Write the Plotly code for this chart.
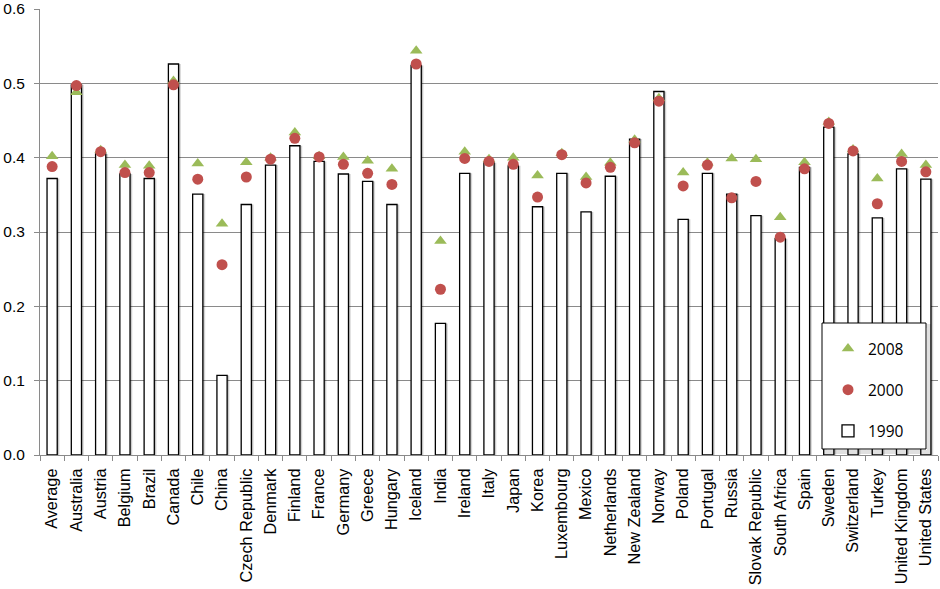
import plotly.graph_objects as go

countries = ["Average", "Australia", "Austria", "Belgium", "Brazil", "Canada", "Chile", "China",
             "Czech Republic", "Denmark", "Finland", "France", "Germany", "Greece", "Hungary",
             "Iceland", "India", "Ireland", "Italy", "Japan", "Korea", "Luxembourg", "Mexico",
             "Netherlands", "New Zealand", "Norway", "Poland", "Portugal", "Russia",
             "Slovak Republic", "South Africa", "Spain", "Sweden", "Switzerland", "Turkey",
             "United Kingdom", "United States"]

v1990 = [0.372, 0.498, 0.405, 0.378, 0.372, 0.526, 0.351, 0.107, 0.337, 0.390, 0.416, 0.395,
         0.378, 0.368, 0.337, 0.524, 0.177, 0.379, 0.393, 0.389, 0.334, 0.379, 0.327, 0.375,
         0.425, 0.489, 0.317, 0.379, 0.351, 0.322, 0.291, 0.387, 0.441, 0.405, 0.319, 0.385,
         0.371]

v2000 = [0.388, 0.497, 0.408, 0.380, 0.380, 0.498, 0.371, 0.256, 0.374, 0.398, 0.426, 0.401,
         0.391, 0.379, 0.364, 0.526, 0.223, 0.399, 0.395, 0.391, 0.347, 0.404, 0.366, 0.387,
         0.420, 0.476, 0.362, 0.390, 0.346, 0.368, 0.293, 0.385, 0.446, 0.409, 0.338, 0.395,
         0.381]

v2008 = [0.402, 0.488, 0.410, 0.390, 0.389, 0.503, 0.392, 0.311, 0.394, 0.400, 0.434, 0.402,
         0.401, 0.396, 0.385, 0.544, 0.288, 0.408, 0.398, 0.400, 0.376, 0.406, 0.374, 0.393,
         0.424, 0.480, 0.380, 0.393, 0.399, 0.398, 0.320, 0.394, 0.448, 0.411, 0.372, 0.405,
         0.390]

FONT = "Liberation Sans, Arial, sans-serif"
GRID = "#8a8a8a"

fig = go.Figure()

# soft shadow behind bars
fig.add_trace(go.Bar(x=countries, y=v1990, width=0.46, offset=-0.21 + 0.06,
                     marker=dict(color="rgba(0,0,0,0.10)", line=dict(width=0)),
                     showlegend=False, hoverinfo="skip"))
fig.add_trace(go.Bar(x=countries, y=v1990, width=0.42, offset=-0.21 + 0.07,
                     marker=dict(color="rgba(0,0,0,0.14)", line=dict(width=0)),
                     showlegend=False, hoverinfo="skip"))

fig.add_trace(go.Bar(x=countries, y=v1990, name="1990", width=0.42, offset=-0.21,
                     marker=dict(color="white", line=dict(color="black", width=1.3)),
                     legendrank=3, legendgroup="c"))

fig.add_trace(go.Scatter(x=countries, y=v2008, name="2008", mode="markers",
                         marker=dict(symbol="triangle-up", size=11, color="#9BBB59"),
                         legendrank=1, legendgroup="a"))

fig.add_trace(go.Scatter(x=countries, y=v2000, name="2000", mode="markers",
                         marker=dict(symbol="circle", size=11, color="#C0504D"),
                         legendrank=2, legendgroup="b"))

# legend frame
fig.add_shape(type="rect", xref="paper", yref="paper",
              x0=(825 - 40) / 898, x1=(929 - 40) / 898,
              y0=(455 - 452) / 446, y1=(455 - 326) / 446,
              line=dict(color="rgba(0,0,0,0.12)", width=4), fillcolor="rgba(0,0,0,0)", layer="above")
fig.add_shape(type="rect", xref="paper", yref="paper",
              x0=(822 - 40) / 898, x1=(926 - 40) / 898,
              y0=(455 - 449) / 446, y1=(455 - 323) / 446,
              line=dict(color="black", width=1), fillcolor="white", layer="above")

fig.update_layout(
    width=940, height=589,
    margin=dict(l=40, r=2, t=9, b=134),
    paper_bgcolor="white", plot_bgcolor="white",
    barmode="overlay",
    font=dict(family=FONT, size=15, color="black"),
    legend=dict(x=(828 - 40) / 898, y=(455 - 332) / 446, xanchor="left", yanchor="top",
                bgcolor="rgba(0,0,0,0)", borderwidth=0, tracegroupgap=18,
                font=dict(family="Open Sans, sans-serif", size=15.5, color="black")),
    xaxis=dict(range=[-0.5, 36.5], tickangle=-90, showgrid=False, showline=True,
               linecolor=GRID, linewidth=1, ticks="outside", tickson="boundaries",
               ticklen=5, tickcolor=GRID, tickfont=dict(family=FONT, size=16.3),
               ticklabelstandoff=6, automargin=False),
    yaxis=dict(range=[0, 0.6], dtick=0.1, tickformat=".1f", showgrid=True,
               gridcolor=GRID, gridwidth=1, showline=True, linecolor=GRID, linewidth=1,
               ticks="outside", ticklen=5, tickcolor=GRID, zeroline=False,
               tickfont=dict(family=FONT, size=15.5), ticklabelstandoff=6,
               automargin=False),
)

fig.write_html("out.html", config={"displayModeBar": False},
               post_script="document.body.style.margin='0';")
